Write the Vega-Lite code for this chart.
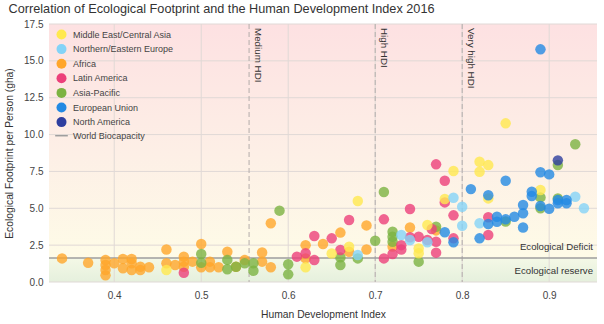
{
"$schema": "https://vega.github.io/schema/vega-lite/v6.json",
"width": 548, "height": 258,
"autosize": {"type": "none"},
"padding": {"left": 49, "top": 24, "right": 7, "bottom": 42},
"background": "white",
"title": {"text": "Correlation of Ecological Footprint and the Human Development Index 2016", "anchor": "start", "fontSize": 12.7, "fontWeight": "normal", "color": "#333333", "offset": 3, "dx": 4},
"config": {"font": "Liberation Sans", "view": {"stroke": null},
 "axisX": {"grid": false, "domain": false, "ticks": false, "labelPadding": 8, "labelFontSize": 10, "labelColor": "#444444", "titleFontSize": 10.3, "titleFontWeight": "normal", "titleColor": "#333333", "titlePadding": 9},
 "axisY": {"grid": false, "domain": false, "ticks": false, "labelPadding": 6, "labelFontSize": 10, "labelColor": "#444444", "titleFontSize": 10.3, "titleFontWeight": "normal", "titleColor": "#333333", "titlePadding": 9}
},
"datasets": {
"pts": [
{"x":0.34,"y":1.6,"r":"Africa"},{"x":0.37,"y":1.3,"r":"Africa"},{"x":0.39,"y":1.49,"r":"Africa"},{"x":0.39,"y":1.15,"r":"Africa"},{"x":0.39,"y":0.81,"r":"Africa"},{"x":0.39,"y":0.45,"r":"Africa"},{"x":0.40,"y":1.27,"r":"Africa"},{"x":0.41,"y":1.56,"r":"Africa"},{"x":0.41,"y":0.93,"r":"Africa"},{"x":0.42,"y":1.56,"r":"Africa"},{"x":0.42,"y":1.27,"r":"Africa"},{"x":0.42,"y":0.81,"r":"Africa"},{"x":0.43,"y":1.04,"r":"Africa"},{"x":0.43,"y":0.81,"r":"Africa"},{"x":0.44,"y":1.0,"r":"Africa"},{"x":0.46,"y":2.2,"r":"Africa"},{"x":0.46,"y":1.27,"r":"Africa"},{"x":0.47,"y":1.15,"r":"Africa"},{"x":0.48,"y":1.72,"r":"Africa"},{"x":0.48,"y":1.38,"r":"Africa"},{"x":0.48,"y":1.04,"r":"Africa"},{"x":0.49,"y":1.38,"r":"Africa"},{"x":0.50,"y":2.58,"r":"Africa"},{"x":0.50,"y":1.0,"r":"Africa"},{"x":0.51,"y":1.38,"r":"Africa"},{"x":0.51,"y":1.0,"r":"Africa"},{"x":0.52,"y":1.0,"r":"Africa"},{"x":0.53,"y":2.05,"r":"Africa"},{"x":0.54,"y":1.04,"r":"Africa"},{"x":0.55,"y":1.49,"r":"Africa"},{"x":0.57,"y":2.0,"r":"Africa"},{"x":0.57,"y":1.38,"r":"Africa"},{"x":0.58,"y":3.98,"r":"Africa"},{"x":0.58,"y":1.0,"r":"Africa"},{"x":0.62,"y":2.5,"r":"Africa"},{"x":0.62,"y":1.6,"r":"Africa"},{"x":0.64,"y":2.58,"r":"Africa"},{"x":0.66,"y":3.35,"r":"Africa"},{"x":0.67,"y":2.05,"r":"Africa"},{"x":0.69,"y":3.84,"r":"Africa"},{"x":0.69,"y":2.2,"r":"Africa"},{"x":0.72,"y":2.4,"r":"Africa"},{"x":0.74,"y":3.7,"r":"Africa"},{"x":0.77,"y":3.5,"r":"Africa"},
{"x":0.50,"y":1.9,"r":"Asia-Pacific"},{"x":0.50,"y":1.3,"r":"Asia-Pacific"},{"x":0.53,"y":1.5,"r":"Asia-Pacific"},{"x":0.53,"y":0.86,"r":"Asia-Pacific"},{"x":0.54,"y":1.04,"r":"Asia-Pacific"},{"x":0.55,"y":1.27,"r":"Asia-Pacific"},{"x":0.56,"y":1.27,"r":"Asia-Pacific"},{"x":0.56,"y":0.76,"r":"Asia-Pacific"},{"x":0.59,"y":4.84,"r":"Asia-Pacific"},{"x":0.60,"y":1.2,"r":"Asia-Pacific"},{"x":0.60,"y":0.52,"r":"Asia-Pacific"},{"x":0.66,"y":1.67,"r":"Asia-Pacific"},{"x":0.66,"y":1.15,"r":"Asia-Pacific"},{"x":0.68,"y":1.6,"r":"Asia-Pacific"},{"x":0.70,"y":2.8,"r":"Asia-Pacific"},{"x":0.71,"y":6.1,"r":"Asia-Pacific"},{"x":0.72,"y":3.41,"r":"Asia-Pacific"},{"x":0.72,"y":3.07,"r":"Asia-Pacific"},{"x":0.72,"y":2.73,"r":"Asia-Pacific"},{"x":0.75,"y":1.38,"r":"Asia-Pacific"},{"x":0.77,"y":3.75,"r":"Asia-Pacific"},{"x":0.85,"y":4.1,"r":"Asia-Pacific"},{"x":0.89,"y":5.74,"r":"Asia-Pacific"},{"x":0.89,"y":5.0,"r":"Asia-Pacific"},{"x":0.91,"y":5.67,"r":"Asia-Pacific"},{"x":0.91,"y":7.93,"r":"Asia-Pacific"},{"x":0.93,"y":9.34,"r":"Asia-Pacific"},
{"x":0.48,"y":0.63,"r":"Latin America"},{"x":0.61,"y":1.72,"r":"Latin America"},{"x":0.62,"y":1.95,"r":"Latin America"},{"x":0.63,"y":3.12,"r":"Latin America"},{"x":0.63,"y":1.49,"r":"Latin America"},{"x":0.65,"y":2.96,"r":"Latin America"},{"x":0.66,"y":2.17,"r":"Latin America"},{"x":0.67,"y":4.2,"r":"Latin America"},{"x":0.71,"y":4.25,"r":"Latin America"},{"x":0.71,"y":1.6,"r":"Latin America"},{"x":0.72,"y":1.9,"r":"Latin America"},{"x":0.73,"y":2.5,"r":"Latin America"},{"x":0.73,"y":2.2,"r":"Latin America"},{"x":0.74,"y":4.95,"r":"Latin America"},{"x":0.74,"y":3.03,"r":"Latin America"},{"x":0.75,"y":3.07,"r":"Latin America"},{"x":0.76,"y":2.85,"r":"Latin America"},{"x":0.765,"y":3.6,"r":"Latin America"},{"x":0.77,"y":2.73,"r":"Latin America"},{"x":0.77,"y":1.99,"r":"Latin America"},{"x":0.77,"y":7.98,"r":"Latin America"},{"x":0.78,"y":6.87,"r":"Latin America"},{"x":0.78,"y":5.4,"r":"Latin America"},{"x":0.79,"y":4.52,"r":"Latin America"},{"x":0.79,"y":2.96,"r":"Latin America"},{"x":0.83,"y":4.39,"r":"Latin America"},{"x":0.83,"y":3.19,"r":"Latin America"},
{"x":0.46,"y":0.81,"r":"Middle East/Central Asia"},{"x":0.62,"y":1.0,"r":"Middle East/Central Asia"},{"x":0.65,"y":1.93,"r":"Middle East/Central Asia"},{"x":0.67,"y":2.39,"r":"Middle East/Central Asia"},{"x":0.68,"y":5.49,"r":"Middle East/Central Asia"},{"x":0.75,"y":2.28,"r":"Middle East/Central Asia"},{"x":0.75,"y":1.95,"r":"Middle East/Central Asia"},{"x":0.76,"y":3.87,"r":"Middle East/Central Asia"},{"x":0.78,"y":5.63,"r":"Middle East/Central Asia"},{"x":0.79,"y":7.53,"r":"Middle East/Central Asia"},{"x":0.82,"y":8.16,"r":"Middle East/Central Asia"},{"x":0.83,"y":7.93,"r":"Middle East/Central Asia"},{"x":0.82,"y":7.48,"r":"Middle East/Central Asia"},{"x":0.83,"y":5.67,"r":"Middle East/Central Asia"},{"x":0.85,"y":10.76,"r":"Middle East/Central Asia"},{"x":0.89,"y":6.24,"r":"Middle East/Central Asia"},
{"x":0.68,"y":1.83,"r":"Northern/Eastern Europe"},{"x":0.73,"y":3.19,"r":"Northern/Eastern Europe"},{"x":0.74,"y":2.85,"r":"Northern/Eastern Europe"},{"x":0.76,"y":2.7,"r":"Northern/Eastern Europe"},{"x":0.79,"y":5.72,"r":"Northern/Eastern Europe"},{"x":0.80,"y":5.1,"r":"Northern/Eastern Europe"},{"x":0.80,"y":3.82,"r":"Northern/Eastern Europe"},{"x":0.82,"y":3.98,"r":"Northern/Eastern Europe"},{"x":0.93,"y":5.78,"r":"Northern/Eastern Europe"},{"x":0.94,"y":5.0,"r":"Northern/Eastern Europe"},
{"x":0.78,"y":3.37,"r":"European Union"},{"x":0.79,"y":2.7,"r":"European Union"},{"x":0.81,"y":6.3,"r":"European Union"},{"x":0.82,"y":2.96,"r":"European Union"},{"x":0.83,"y":5.88,"r":"European Union"},{"x":0.83,"y":3.93,"r":"European Union"},{"x":0.84,"y":4.43,"r":"European Union"},{"x":0.84,"y":4.09,"r":"European Union"},{"x":0.85,"y":6.87,"r":"European Union"},{"x":0.85,"y":4.25,"r":"European Union"},{"x":0.86,"y":4.43,"r":"European Union"},{"x":0.87,"y":5.22,"r":"European Union"},{"x":0.87,"y":4.66,"r":"European Union"},{"x":0.87,"y":3.7,"r":"European Union"},{"x":0.88,"y":6.12,"r":"European Union"},{"x":0.88,"y":5.83,"r":"European Union"},{"x":0.89,"y":7.44,"r":"European Union"},{"x":0.89,"y":5.15,"r":"European Union"},{"x":0.89,"y":15.78,"r":"European Union"},{"x":0.90,"y":7.3,"r":"European Union"},{"x":0.90,"y":4.97,"r":"European Union"},{"x":0.91,"y":5.56,"r":"European Union"},{"x":0.91,"y":5.34,"r":"European Union"},{"x":0.92,"y":5.56,"r":"European Union"},{"x":0.92,"y":5.34,"r":"European Union"},
{"x":0.91,"y":8.25,"r":"North America"}
]
},
"layer": [
{"data": {"values": [{"x": 0.325, "x2": 0.955, "y": 0, "y2": 17.5}]},
 "mark": {"type": "rect", "color": {"gradient": "linear", "x1": 0, "y1": 0, "x2": 0, "y2": 1, "stops": [{"offset": 0, "color": "#fde1e2"}, {"offset": 0.5, "color": "#fdefe6"}, {"offset": 0.906, "color": "#fefbe7"}, {"offset": 0.907, "color": "#f4f8e6"}, {"offset": 1, "color": "#e5f0dd"}]}},
 "encoding": {"x": {"field": "x", "type": "quantitative", "scale": {"domain": [0.325, 0.955], "nice": false, "zero": false}, "title": "Human Development Index", "axis": {"values": [0.4, 0.5, 0.6, 0.7, 0.8, 0.9], "format": ".1f"}}, "x2": {"field": "x2"}, "y": {"field": "y", "type": "quantitative", "scale": {"domain": [0, 17.5], "nice": false, "zero": false}, "title": "Ecological Footprint per Person (gha)", "axis": {"values": [0, 2.5, 5, 7.5, 10, 12.5, 15, 17.5], "format": ".1f"}}, "y2": {"field": "y2"}}},
{"data": {"values": [{"x": 0.4}, {"x": 0.5}, {"x": 0.6}, {"x": 0.7}, {"x": 0.8}, {"x": 0.9}]},
 "mark": {"type": "rule", "color": "#e0d9d6", "strokeWidth": 1},
 "encoding": {"x": {"field": "x", "type": "quantitative", "scale": {"domain": [0.325, 0.955], "nice": false, "zero": false}, "title": "Human Development Index", "axis": {"values": [0.4, 0.5, 0.6, 0.7, 0.8, 0.9], "format": ".1f"}}}},
{"data": {"values": [{"y": 0}, {"y": 2.5}, {"y": 5}, {"y": 7.5}, {"y": 10}, {"y": 12.5}, {"y": 15}, {"y": 17.5}]},
 "mark": {"type": "rule", "color": "#e0d9d6", "strokeWidth": 1},
 "encoding": {"y": {"field": "y", "type": "quantitative", "scale": {"domain": [0, 17.5], "nice": false, "zero": false}, "title": "Ecological Footprint per Person (gha)", "axis": {"values": [0, 2.5, 5, 7.5, 10, 12.5, 15, 17.5], "format": ".1f"}}}},
{"data": {"values": [{"x": 0.555, "t": "Medium HDI"}, {"x": 0.7, "t": "High HDI"}, {"x": 0.8, "t": "Very high HDI"}]},
 "mark": {"type": "rule", "color": "#b3adab", "strokeDash": [5, 3], "strokeWidth": 1},
 "encoding": {"x": {"field": "x", "type": "quantitative", "scale": {"domain": [0.325, 0.955], "nice": false, "zero": false}, "title": "Human Development Index", "axis": {"values": [0.4, 0.5, 0.6, 0.7, 0.8, 0.9], "format": ".1f"}}}},
{"data": {"values": [{"x": 0.555, "y": 17.5, "t": "Medium HDI"}, {"x": 0.7, "y": 17.5, "t": "High HDI"}, {"x": 0.8, "y": 17.5, "t": "Very high HDI"}]},
 "mark": {"type": "text", "angle": 90, "align": "left", "baseline": "bottom", "dx": 4, "dy": -4, "fontSize": 9.8, "color": "#333333"},
 "encoding": {"x": {"field": "x", "type": "quantitative", "scale": {"domain": [0.325, 0.955], "nice": false, "zero": false}, "title": "Human Development Index", "axis": {"values": [0.4, 0.5, 0.6, 0.7, 0.8, 0.9], "format": ".1f"}}, "y": {"field": "y", "type": "quantitative", "scale": {"domain": [0, 17.5], "nice": false, "zero": false}, "title": "Ecological Footprint per Person (gha)", "axis": {"values": [0, 2.5, 5, 7.5, 10, 12.5, 15, 17.5], "format": ".1f"}}, "text": {"field": "t"}}},
{"data": {"values": [{"x": 0.955, "y": 1.63, "t": "Ecological Deficit"}]},
 "mark": {"type": "text", "align": "right", "baseline": "bottom", "dx": -4, "dy": -6, "fontSize": 9.6, "color": "#333333"},
 "encoding": {"x": {"field": "x", "type": "quantitative", "scale": {"domain": [0.325, 0.955], "nice": false, "zero": false}, "title": "Human Development Index", "axis": {"values": [0.4, 0.5, 0.6, 0.7, 0.8, 0.9], "format": ".1f"}}, "y": {"field": "y", "type": "quantitative", "scale": {"domain": [0, 17.5], "nice": false, "zero": false}, "title": "Ecological Footprint per Person (gha)", "axis": {"values": [0, 2.5, 5, 7.5, 10, 12.5, 15, 17.5], "format": ".1f"}}, "text": {"field": "t"}}},
{"data": {"values": [{"x": 0.955, "y": 1.63, "t": "Ecological reserve"}]},
 "mark": {"type": "text", "align": "right", "baseline": "top", "dx": -4, "dy": 8, "fontSize": 9.6, "color": "#333333"},
 "encoding": {"x": {"field": "x", "type": "quantitative", "scale": {"domain": [0.325, 0.955], "nice": false, "zero": false}, "title": "Human Development Index", "axis": {"values": [0.4, 0.5, 0.6, 0.7, 0.8, 0.9], "format": ".1f"}}, "y": {"field": "y", "type": "quantitative", "scale": {"domain": [0, 17.5], "nice": false, "zero": false}, "title": "Ecological Footprint per Person (gha)", "axis": {"values": [0, 2.5, 5, 7.5, 10, 12.5, 15, 17.5], "format": ".1f"}}, "text": {"field": "t"}}},
{"data": {"values": [{"y": 1.63, "r": "World Biocapacity"}]},
 "mark": {"type": "rule", "strokeWidth": 1.5},
 "encoding": {"y": {"field": "y", "type": "quantitative", "scale": {"domain": [0, 17.5], "nice": false, "zero": false}, "title": "Ecological Footprint per Person (gha)", "axis": {"values": [0, 2.5, 5, 7.5, 10, 12.5, 15, 17.5], "format": ".1f"}},
  "color": {"field": "r", "type": "nominal", "scale": {"domain": ["Middle East/Central Asia", "Northern/Eastern Europe", "Africa", "Latin America", "Asia-Pacific", "European Union", "North America", "World Biocapacity"], "range": ["#ffe94f", "#84d3f7", "#ffa62b", "#ec407a", "#7cb342", "#2389e3", "#2e3e9f", "#9e9e9e"]}, "title": null}}},
{"data": {"name": "pts"},
 "mark": {"type": "point", "filled": true, "size": 110, "opacity": 0.8},
 "encoding": {
  "x": {"field": "x", "type": "quantitative", "scale": {"domain": [0.325, 0.955], "nice": false, "zero": false}, "title": "Human Development Index", "axis": {"values": [0.4, 0.5, 0.6, 0.7, 0.8, 0.9], "format": ".1f"}},
  "y": {"field": "y", "type": "quantitative", "scale": {"domain": [0, 17.5], "nice": false, "zero": false}, "title": "Ecological Footprint per Person (gha)", "axis": {"values": [0, 2.5, 5, 7.5, 10, 12.5, 15, 17.5], "format": ".1f"}},
  "color": {"field": "r", "type": "nominal", "title": null, "scale": {"domain": ["Middle East/Central Asia", "Northern/Eastern Europe", "Africa", "Latin America", "Asia-Pacific", "European Union", "North America", "World Biocapacity"], "range": ["#ffe94f", "#84d3f7", "#ffa62b", "#ec407a", "#7cb342", "#2389e3", "#2e3e9f", "#9e9e9e"]},
   "legend": {"orient": "none", "legendX": 8, "legendY": 6, "padding": 0, "symbolSize": 100, "symbolOpacity": 1, "symbolType": "circle", "labelFontSize": 9, "labelColor": "#444444", "labelOffset": 7, "rowPadding": 3.6,
    "encode": {"symbols": {"update": {"shape": {"signal": "datum.value === 'World Biocapacity' ? 'stroke' : 'circle'"}, "size": {"signal": "datum.value === 'World Biocapacity' ? 160 : 100"}, "stroke": {"signal": "datum.value === 'World Biocapacity' ? '#9e9e9e' : 'transparent'"}, "strokeWidth": {"signal": "datum.value === 'World Biocapacity' ? 1.5 : 0"}}}}}}
 }}
]
}
